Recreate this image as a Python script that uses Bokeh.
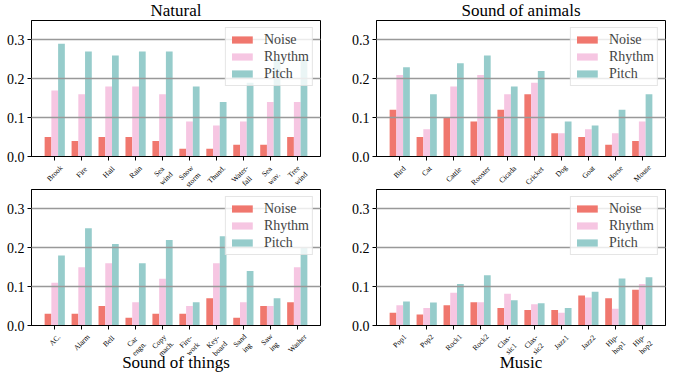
import numpy as np
from bokeh.plotting import figure
from bokeh.layouts import gridplot
from bokeh.models import (FixedTicker, Legend, LegendItem, ColumnDataSource, Range1d,
                          CustomJSTickFormatter)
from bokeh.core.properties import value
from bokeh.embed import file_html
from bokeh.resources import INLINE
from math import pi

FONT = "Liberation Serif"
series = ["Noise", "Rhythm", "Pitch"]
colors = ["#F0776E", "#F6C6E2", "#96CCCB"]

natural_cats = ["Brook", "Fire", "Hail", "Rain", "Sea\nwind", "Snow\nstorm", "Thund.", "Water-\nfall", "Sea\nwav.", "Tree\nwind"]
natural_noise = [0.05, 0.04, 0.05, 0.05, 0.04, 0.02, 0.02, 0.03, 0.03, 0.05]
natural_rhythm = [0.17, 0.16, 0.18, 0.18, 0.16, 0.09, 0.08, 0.09, 0.14, 0.14]
natural_pitch = [0.29, 0.27, 0.26, 0.27, 0.27, 0.18, 0.14, 0.19, 0.25, 0.25]

animal_cats = ["Bird", "Cat", "Cattle", "Rooster", "Cicada", "Cricket", "Dog", "Goat", "Horse", "Mouse"]
animal_noise = [0.12, 0.05, 0.10, 0.09, 0.12, 0.16, 0.06, 0.05, 0.03, 0.04]
animal_rhythm = [0.21, 0.07, 0.18, 0.21, 0.16, 0.19, 0.06, 0.07, 0.06, 0.09]
animal_pitch = [0.23, 0.16, 0.24, 0.26, 0.18, 0.22, 0.09, 0.08, 0.12, 0.16]

things_cats = ["AC.", "Alarm", "Bell", "Car\nengn.", "Copy\nmach.", "Fire-\nwork", "Key-\nboard", "Sand\ning", "Saw\ning", "Washer"]
things_noise = [0.03, 0.03, 0.05, 0.02, 0.03, 0.03, 0.07, 0.02, 0.05, 0.06]
things_rhythm = [0.11, 0.15, 0.16, 0.06, 0.12, 0.05, 0.16, 0.06, 0.05, 0.15]
things_pitch = [0.18, 0.25, 0.21, 0.16, 0.22, 0.06, 0.23, 0.14, 0.07, 0.20]

music_cats = ["Pop1", "Pop2", "Rock1", "Rock2", "Clas-\nsic1", "Clas-\nsic2", "Jazz1", "Jazz2", "Hip-\nhop1", "Hip-\nhop2"]
music_noise = [0.033, 0.028, 0.052, 0.060, 0.045, 0.040, 0.040, 0.077, 0.070, 0.092]
music_rhythm = [0.052, 0.045, 0.084, 0.060, 0.082, 0.055, 0.033, 0.072, 0.043, 0.107]
music_pitch = [0.062, 0.059, 0.107, 0.129, 0.065, 0.057, 0.045, 0.087, 0.121, 0.124]

y_ticks = [0.0, 0.1, 0.2, 0.3]
y_tick_labels = ["0.0", "0.1", "0.2", "0.3"]

TICK_FS = 7.5
FRAME_W, FRAME_H = 289, 136
TITLE_H = 20         # title strip above the upper plots
MAIN_BB = 8          # space below main frame (tick marks)
STRIP_TOP_H = 25     # label strip under the upper plots
STRIP_BOT_H = 39     # label strip + axis title under the lower plots


def label_offset(txt):
    # px below the main frame of the center of a 45-degree rotated,
    # center-aligned label whose bounding box starts right under the tick
    lines = txt.split("\n")
    L = max(len(s) for s in lines) * 0.44 * TICK_FS
    h = len(lines) * 1.1 * TICK_FS
    return MAIN_BB + 0.354 * (L + h)


def borders(left):
    return 31, (25 if left else 5)


def make(cats, noise, rhythm, pitch, left=True):
    n = len(cats)
    idx = np.arange(n)
    bw = 0.25
    bl, br = borders(left)
    xr = Range1d(-0.375 - 0.4875, n - 1 + 0.375 + 0.4875)
    p = figure(width=bl + FRAME_W + br, height=FRAME_H + MAIN_BB,
               x_range=xr, y_range=(0, 0.35),
               output_backend="svg", toolbar_location=None,
               min_border_left=bl, min_border_right=br,
               min_border_top=0, min_border_bottom=MAIN_BB,
               background_fill_color="white", border_fill_color="white")
    p.outline_line_color = "black"
    p.outline_line_width = 1
    p.outline_line_alpha = 1
    items = []
    for k, (vals, name, col) in enumerate(zip([noise, rhythm, pitch], series, colors)):
        src = ColumnDataSource(dict(x=idx + (k - 1) * bw, top=vals))
        r = p.vbar(x="x", top="top", width=bw, source=src, fill_color=col, line_color=None)
        items.append(LegendItem(label=name, renderers=[r]))
    p.xgrid.visible = False
    p.ygrid.ticker = FixedTicker(ticks=y_ticks[1:])
    p.ygrid.grid_line_color = "#999999"
    p.ygrid.grid_line_width = 1.3
    p.ygrid.level = "annotation"
    p.yaxis.ticker = FixedTicker(ticks=y_ticks)
    p.yaxis.major_label_overrides = {t: l for t, l in zip(y_ticks, y_tick_labels)}
    p.yaxis.major_label_text_font = FONT
    p.yaxis.major_label_text_font_size = "14px"
    p.yaxis.major_label_text_color = "black"
    p.yaxis.major_label_standoff = 3
    p.xaxis.ticker = FixedTicker(ticks=list(idx))
    p.xaxis.formatter = CustomJSTickFormatter(code="return ''")
    p.xaxis.major_label_standoff = 0
    p.xaxis.major_label_text_font_size = "1px"
    for ax in (p.xaxis[0], p.yaxis[0]):
        ax.axis_line_color = "black"
        ax.major_tick_line_color = "black"
        ax.major_tick_out = 4
        ax.major_tick_in = 0
        ax.minor_tick_line_color = None
    legend = Legend(items=items, location="top_right")
    legend.label_text_font = FONT
    legend.label_text_font_size = "14px"
    legend.glyph_width = 26
    legend.glyph_height = 9
    legend.label_height = 17
    legend.label_standoff = 9
    legend.spacing = 0
    legend.padding = 3
    legend.margin = 7
    legend.border_line_color = "#cccccc"
    legend.background_fill_alpha = 0.8
    p.add_layout(legend)
    return p


def blank(main, height, left):
    bl, br = borders(left)
    s = figure(width=bl + FRAME_W + br, height=height,
               x_range=main.x_range, y_range=Range1d(-height, 0),
               output_backend="svg", toolbar_location=None,
               min_border_left=bl, min_border_right=br,
               min_border_top=0, min_border_bottom=0,
               background_fill_color="white", border_fill_color="white")
    s.axis.visible = False
    s.grid.visible = False
    s.outline_line_color = None
    return s


def title_strip(main, title, left=True):
    s = blank(main, TITLE_H, left)
    mid = (main.x_range.start + main.x_range.end) / 2
    s.text(x=[mid], y=[-TITLE_H + 0.5], text=[title], text_align="center",
           text_baseline="bottom", text_font=value(FONT),
           text_font_size=value("17px"), text_color="black")
    return s


def strip(main, cats, height, left=True, xlabel=None):
    s = blank(main, height, left)
    n = len(cats)
    src = ColumnDataSource(dict(x=np.arange(n),
                                y=[-(label_offset(c) - MAIN_BB) for c in cats],
                                text=cats))
    s.text(x="x", y="y", text="text", source=src, angle=pi / 4,
           text_align="center", text_baseline="middle",
           text_font=value(FONT), text_font_size=value(f"{TICK_FS}px"),
           text_color="black", text_line_height=1.1)
    if xlabel:
        mid = (main.x_range.start + main.x_range.end) / 2
        s.text(x=[mid], y=[-height + 0.5], text=[xlabel], text_align="center",
               text_baseline="bottom", text_font=value(FONT),
               text_font_size=value("17px"), text_color="black")
    return s


p1 = make(natural_cats, natural_noise, natural_rhythm, natural_pitch, left=True)
p2 = make(animal_cats, animal_noise, animal_rhythm, animal_pitch, left=False)
p3 = make(things_cats, things_noise, things_rhythm, things_pitch, left=True)
p4 = make(music_cats, music_noise, music_rhythm, music_pitch, left=False)

t1 = title_strip(p1, "Natural", left=True)
t2 = title_strip(p2, "Sound of animals", left=False)
s1 = strip(p1, natural_cats, STRIP_TOP_H, left=True)
s2 = strip(p2, animal_cats, STRIP_TOP_H, left=False)
s3 = strip(p3, things_cats, STRIP_BOT_H, left=True, xlabel="Sound of things")
s4 = strip(p4, music_cats, STRIP_BOT_H, left=False, xlabel="Music")

grid = gridplot([[t1, t2], [p1, p2], [s1, s2], [p3, p4], [s3, s4]], toolbar_location=None)

open("out.html", "w").write(file_html(grid, INLINE))
